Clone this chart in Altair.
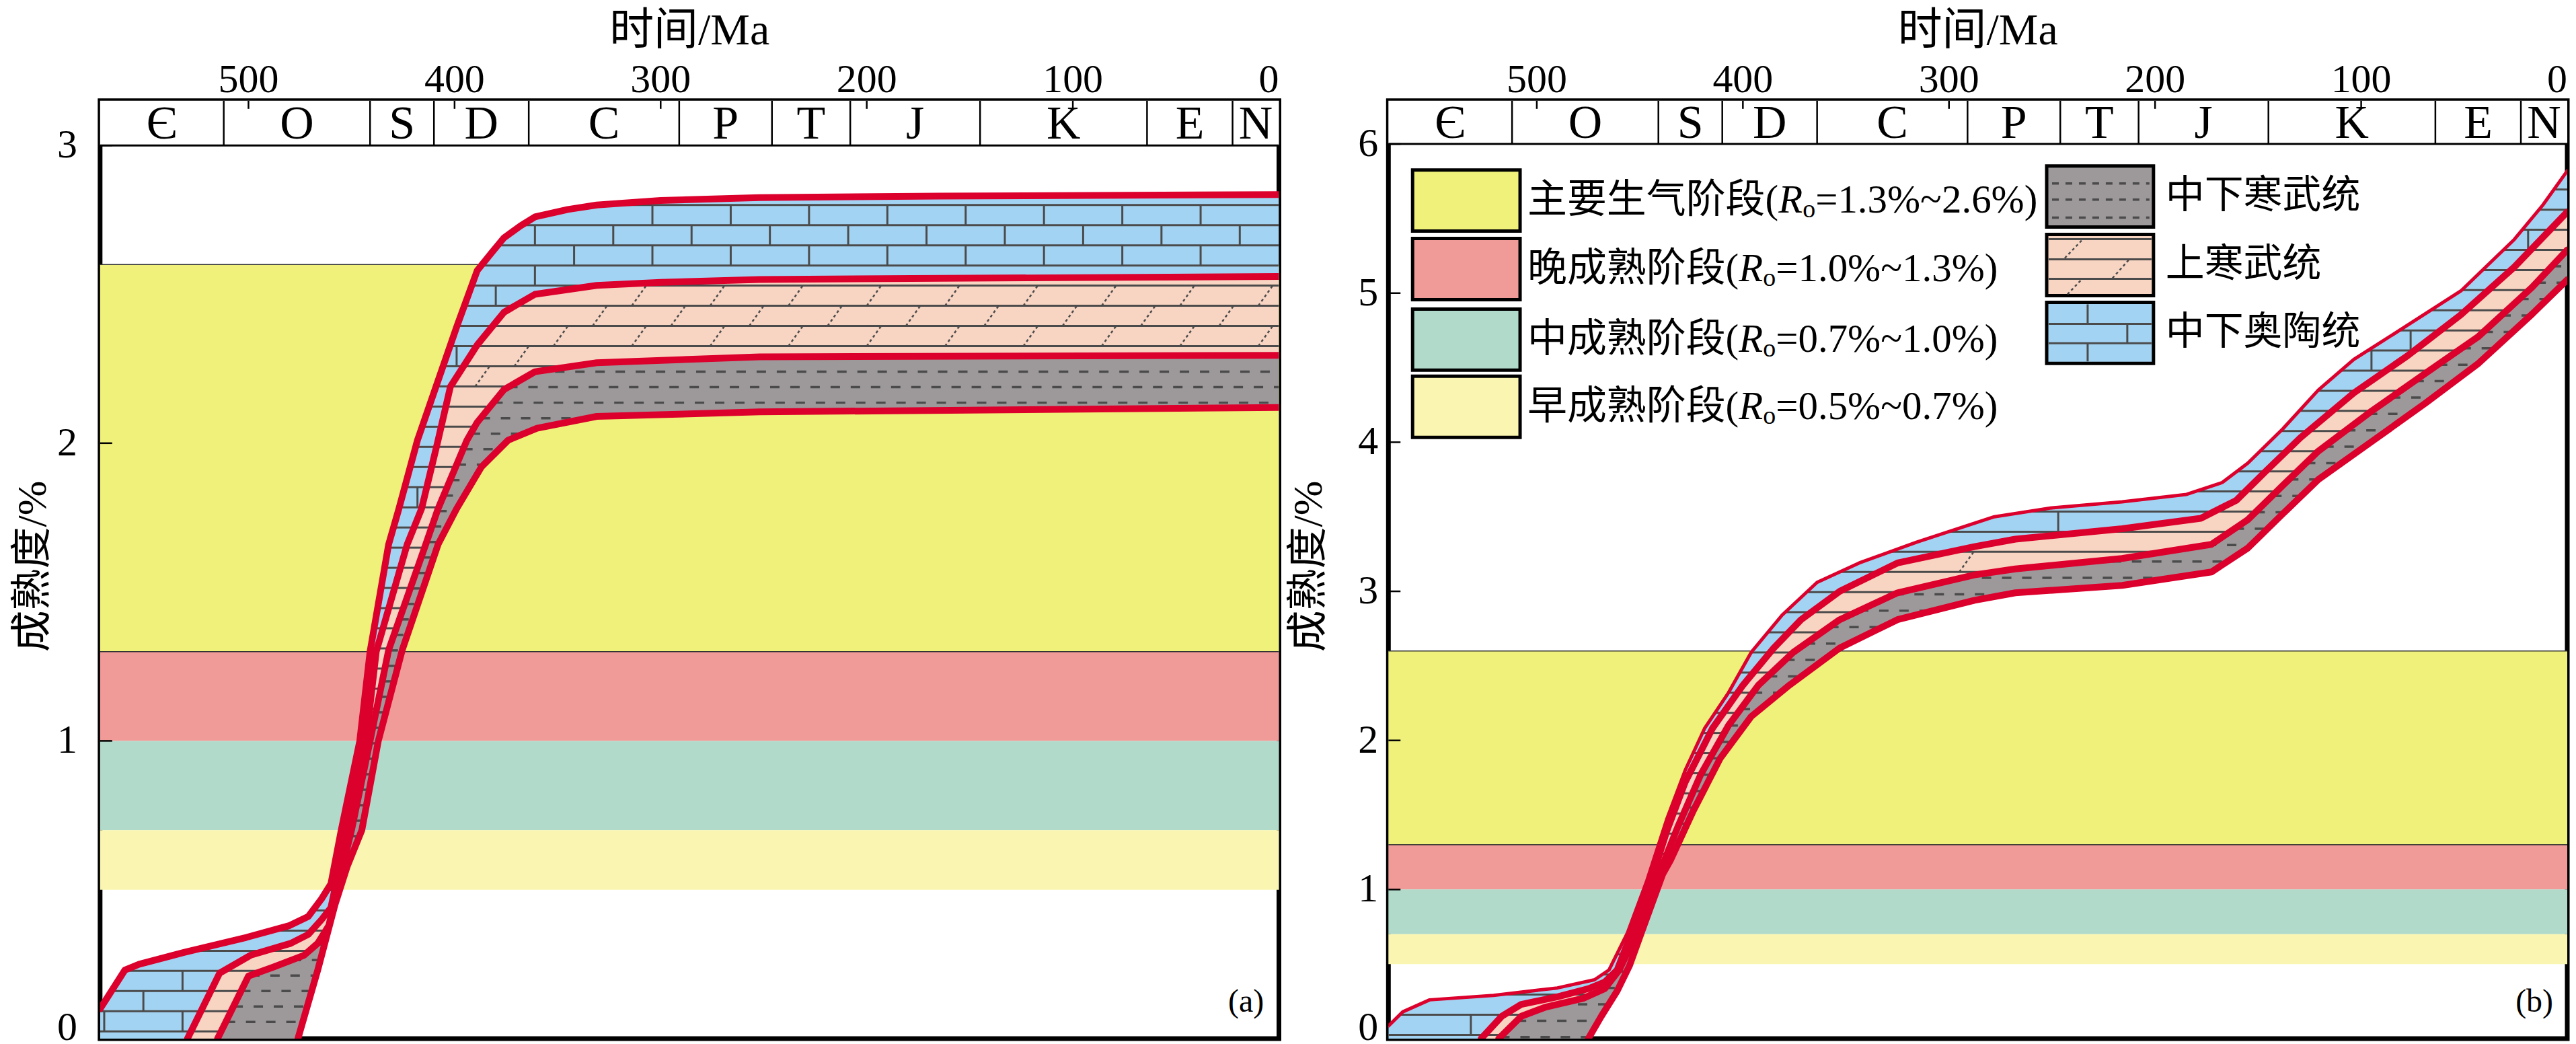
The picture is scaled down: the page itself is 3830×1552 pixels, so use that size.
import altair as alt
import numpy as np
import pandas as pd

# ---------------- data ----------------
AGE_DOMAIN = [572, 0]
TIME_TICKS = [500, 400, 300, 200, 100, 0]
PERIOD_BOUNDS = [512, 441, 410, 364, 291, 246, 208, 145, 64, 22.5]
PERIOD_NAMES = ["Є", "O", "S", "D", "C", "P", "T", "J", "K", "E", "N"]

STAGE_NAMES = ["主要生气阶段", "晚成熟阶段", "中成熟阶段", "早成熟阶段"]
STAGE_LOW = [1.3, 1.0, 0.7, 0.5]
STAGE_HIGH = [2.6, 1.3, 1.0, 0.7]
STAGE_COLORS = ["#F0F17A", "#F19B99", "#B2DACA", "#FAF6B1"]
UNIT_NAMES = ["中下寒武统", "上寒武统", "中下奥陶统"]
X_TITLE = "时间/Ma"
Y_TITLE = "成熟度/%"

# panel (a): four red boundary curves (age in Ma, Ro in %)
A_Y_TICKS = [0, 1, 2, 3]
A_C1_AGE = [572, 560, 553, 531, 501, 480, 471, 464.5, 460, 455, 446, 441, 432, 427, 418, 409, 399, 389, 382, 376, 368, 361, 345, 331, 300, 252, 165, 0]
A_C1_RO = [0.10, 0.23, 0.25, 0.29, 0.34, 0.38, 0.41, 0.47, 0.52, 0.70, 1.00, 1.30, 1.66, 1.78, 2.01, 2.19, 2.39, 2.58, 2.64, 2.69, 2.73, 2.76, 2.785, 2.80, 2.815, 2.825, 2.83, 2.835]
A_C2_AGE = [529.6, 514, 499, 479.5, 471, 464.5, 460, 452, 443, 438, 423, 416, 408, 402, 389, 376, 361, 331, 300, 252, 0]
A_C2_RO = [0.0, 0.22, 0.28, 0.32, 0.35, 0.40, 0.44, 0.70, 1.00, 1.30, 1.66, 1.78, 2.01, 2.19, 2.33, 2.44, 2.50, 2.53, 2.54, 2.55, 2.56]
A_C3_AGE = [515, 500, 488, 473, 466.4, 461, 456, 450, 441, 432, 414, 408, 394, 389, 376, 361, 331, 252, 0]
A_C3_RO = [0.0, 0.21, 0.24, 0.28, 0.32, 0.38, 0.53, 0.70, 1.00, 1.305, 1.66, 1.78, 2.01, 2.07, 2.18, 2.24, 2.27, 2.29, 2.295]
A_C4_AGE = [476, 466.4, 458, 452, 445, 437, 425.4, 408, 399, 387, 374, 360, 331, 252, 0]
A_C4_RO = [0.0, 0.23, 0.45, 0.58, 0.70, 1.00, 1.305, 1.66, 1.78, 1.92, 2.01, 2.05, 2.09, 2.105, 2.12]

# panel (b)
B_Y_TICKS = [0, 1, 2, 3, 4, 5, 6]
B_C1_AGE = [572, 565, 552, 521, 490, 472, 465, 456, 446.6, 437, 428, 418.6, 407, 396, 381, 364, 343.6, 315.6, 278, 250, 216, 184.7, 167.4, 155, 138, 120.8, 103.6, 77.5, 51.6, 25.7, 11.9, 0]
B_C1_RO = [0.085, 0.18, 0.26, 0.29, 0.34, 0.395, 0.46, 0.71, 1.06, 1.47, 1.80, 2.08, 2.32, 2.59, 2.84, 3.06, 3.19, 3.33, 3.50, 3.56, 3.60, 3.65, 3.73, 3.86, 4.09, 4.35, 4.555, 4.785, 5.015, 5.36, 5.59, 5.82]
B_C2_AGE = [527, 517, 507.5, 490, 475, 467, 461, 454, 444.5, 437, 428, 414.8, 400, 385, 371.8, 353, 325, 287.6, 267.8, 216, 177.8, 160.6, 146.7, 129.5, 103.6, 77.5, 51.6, 25.7, 0]
B_C2_RO = [0.0, 0.15, 0.23, 0.28, 0.335, 0.38, 0.46, 0.71, 1.06, 1.39, 1.72, 2.08, 2.37, 2.62, 2.81, 3.00, 3.19, 3.30, 3.35, 3.42, 3.49, 3.61, 3.80, 4.03, 4.33, 4.58, 4.855, 5.175, 5.545]
B_C3_AGE = [518.5, 507.5, 496, 477.5, 467, 460, 451.5, 442, 431.6, 420.5, 407, 392.5, 375.6, 353, 325, 287.6, 267.8, 216, 172.6, 155, 138, 120.8, 94.8, 69, 43, 17, 0]
B_C3_RO = [0.0, 0.15, 0.21, 0.27, 0.335, 0.46, 0.71, 1.06, 1.42, 1.77, 2.10, 2.37, 2.59, 2.81, 2.99, 3.11, 3.15, 3.22, 3.315, 3.48, 3.71, 3.94, 4.21, 4.46, 4.71, 5.04, 5.29]
B_C4_AGE = [475, 468.7, 461, 455, 449, 439, 435, 424, 411, 396, 377.5, 353, 325, 287.6, 267.8, 216, 172.6, 155, 138, 120.8, 94.8, 69, 43, 17, 0]
B_C4_RO = [0.0, 0.15, 0.32, 0.49, 0.72, 1.10, 1.20, 1.53, 1.88, 2.16, 2.37, 2.62, 2.81, 2.94, 2.99, 3.04, 3.13, 3.29, 3.52, 3.75, 4.005, 4.26, 4.53, 4.86, 5.09]

# ---------------- styling ----------------
SERIF = "Liberation Serif, Noto Sans CJK SC"
CJK = "Noto Sans CJK SC"
W, H = 1755, 1396
RED = "#DC002D"
BLUE = "#A3D3F2"
PINK = "#F8D4C2"
GRAY = "#9D999A"
HATCH = "#4B4B4B"
ONE = pd.DataFrame({"k": [0]})


def X(field):
    return alt.X(f"{field}:Q", scale=alt.Scale(domain=AGE_DOMAIN, nice=False, zero=False), axis=None)


def Y(field, ymax):
    return alt.Y(f"{field}:Q", scale=alt.Scale(domain=[0, ymax], nice=False, zero=False), axis=None)


def inv(curve, r):
    return float(np.interp(r, curve[1], curve[0]))


def levels(base, step, top):
    r = base - step * np.floor(base / step)
    out = []
    while r < top:
        if r > 0.005:
            out.append(float(r))
        r += step
    return out


def hlines(up, lo, base, step):
    rows = []
    for r in levels(base, step, up[1][-1]):
        a_hi, a_lo = inv(up, r), inv(lo, r)
        if a_hi - a_lo > 0.3:
            rows.append({"a1": a_hi, "a2": a_lo, "r1": r, "r2": r})
    return pd.DataFrame(rows, columns=["a1", "a2", "r1", "r2"])


def joints(up, lo, base, step, spacing, shift=0.0, phase=0.0):
    rows = []
    lv = levels(base, step, up[1][-1])
    for k in range(len(lv) - 1):
        r, r2 = lv[k], lv[k + 1]
        left, right = inv(up, r2), inv(lo, r)
        off = phase + (spacing / 2.0) * (k % 2)
        for a in off + spacing * np.arange(0, 20):
            if right + 1 < a - shift and a < left - 1:
                rows.append({"a1": float(a), "a2": float(a - shift), "r1": r, "r2": r2})
    return pd.DataFrame(rows, columns=["a1", "a2", "r1", "r2"])


def rule_layer(df, ymax, **kw):
    return alt.Chart(df).mark_rule(color=HATCH, clip=True, **kw).encode(
        x=X("a1"), x2="a2:Q", y=Y("r1", ymax), y2="r2:Q")


def text_at(txt, x, y, **kw):
    style = dict(font=SERIF, color="black")
    style.update(kw)
    return alt.Chart(ONE).mark_text(text=txt, **style).encode(x=alt.value(x), y=alt.value(y))


def legend_layers():
    L = []
    sw_x, sw_w, sw_h = 36, 160, 91
    tops = [103, 205, 310, 410]
    tx, fs, fsub = 207, 59, 38
    for i, name in enumerate(STAGE_NAMES):
        y0 = tops[i]
        yc = y0 + sw_h / 2
        L.append(alt.Chart(ONE).mark_rect(fill=STAGE_COLORS[i], stroke="black", strokeWidth=5).encode(
            x=alt.value(sw_x), x2=alt.value(sw_x + sw_w), y=alt.value(y0), y2=alt.value(y0 + sw_h)))
        w1 = fs * len(name) + 0.333 * fs
        wR = 0.611 * fs
        wo = 0.5 * fsub
        p4 = f"={STAGE_LOW[i]:.1f}%~{STAGE_HIGH[i]:.1f}%)"
        parts = [(name + "(", 0, fs, "normal", 0), ("R", w1, fs, "italic", 0),
                 ("o", w1 + wR, fsub, "normal", 14), (p4, w1 + wR + wo, fs, "normal", 0)]
        for txt, dx, size, style, dy in parts:
            L.append(text_at(txt, tx + dx, yc, fontSize=size, fontStyle=style, align="left",
                             baseline="middle", dy=dy))
    # right column: lithology swatches
    rl, rw, rh = 980, 159, 91
    rtops = [97, 199, 300]
    fills = [GRAY, PINK, BLUE]
    solid, dashed = [], []
    for i in range(3):
        t = rtops[i]
        L.append(alt.Chart(ONE).mark_rect(fill=fills[i], stroke="black", strokeWidth=5).encode(
            x=alt.value(rl), x2=alt.value(rl + rw), y=alt.value(t), y2=alt.value(t + rh)))
        if i == 0:
            for dy in (26, 50, 77):
                dashed.append({"x1": rl + 8, "x2": rl + rw - 6, "y1": t + dy, "y2": t + dy, "g": "d"})
        elif i == 1:
            for dy in (7, 37, 66):
                solid.append({"x1": rl + 3, "x2": rl + rw - 3, "y1": t + dy, "y2": t + dy})
            for (xa, ya, xb, yb) in [(27, 35, 52, 9), (98, 65, 122, 38), (31, 89, 52, 67)]:
                dashed.append({"x1": rl + xa, "x2": rl + xb, "y1": t + ya, "y2": t + yb, "g": "s"})
        else:
            for dy in (32, 61):
                solid.append({"x1": rl + 3, "x2": rl + rw - 3, "y1": t + dy, "y2": t + dy})
            for (xa, ya, yb) in [(61, 3, 32), (120, 32, 61), (61, 61, 88)]:
                solid.append({"x1": rl + xa, "x2": rl + xa, "y1": t + ya, "y2": t + yb})
        L.append(text_at(UNIT_NAMES[i], 1157, t + rh / 2, font=CJK, fontSize=58, align="left",
                         baseline="middle"))
    enc = dict(x=alt.X("x1:Q", scale=None, axis=None), x2="x2:Q",
               y=alt.Y("y1:Q", scale=None, axis=None), y2="y2:Q")
    L.append(alt.Chart(pd.DataFrame(solid)).mark_rule(color=HATCH, strokeWidth=3).encode(**enc))
    dd = pd.DataFrame(dashed)
    L.append(alt.Chart(dd[dd.g == "d"]).mark_rule(color=HATCH, strokeWidth=3.5, strokeDash=[10, 10]).encode(**enc))
    L.append(alt.Chart(dd[dd.g == "s"]).mark_rule(color=HATCH, strokeWidth=2.5, strokeDash=[4, 4]).encode(**enc))
    return L


def panel(curves, lw, ymax, strip_lo, yticks, ylab_pad, ytitle_x, hatch, tag, legend=False):
    layers = []
    bands = pd.DataFrame({"lo": STAGE_LOW, "hi": STAGE_HIGH, "c": STAGE_COLORS,
                          "a0": AGE_DOMAIN[0], "a1": AGE_DOMAIN[1]})
    layers.append(alt.Chart(bands).mark_rect().encode(
        x=X("a0"), x2="a1:Q", y=Y("lo", ymax), y2="hi:Q", color=alt.Color("c:N", scale=None)))
    blines = pd.DataFrame({"r": [STAGE_LOW[0], STAGE_HIGH[0]], "a0": AGE_DOMAIN[0], "a1": AGE_DOMAIN[1]})
    layers.append(alt.Chart(blines).mark_rule(color="#333333", strokeWidth=1.5).encode(
        x=X("a0"), x2="a1:Q", y=Y("r", ymax)))

    c1, c2, c3, c4 = curves
    for up, lo, col, close in [(c1, c2, BLUE, True), (c2, c3, PINK, False), (c3, c4, GRAY, False)]:
        a = list(up[0]) + list(lo[0])[::-1]
        r = list(up[1]) + list(lo[1])[::-1]
        if close:
            a.append(AGE_DOMAIN[0])
            r.append(0.0)
        df = pd.DataFrame({"age": a, "R": r, "i": range(len(a))})
        layers.append(alt.Chart(df).mark_line(filled=True, color=col, clip=True).encode(
            x=X("age"), y=Y("R", ymax), order=alt.Order("i:Q")))

    base, step, gbase, gstep = hatch
    layers.append(rule_layer(hlines(c1, c2, base, step), ymax, strokeWidth=3))
    layers.append(rule_layer(joints(c1, c2, base, step, 38.0), ymax, strokeWidth=3))
    layers.append(rule_layer(hlines(c2, c3, base, step), ymax, strokeWidth=3))
    layers.append(rule_layer(joints(c2, c3, base, step, 38.0, shift=7.0, phase=10.0), ymax,
                             strokeWidth=2.5, strokeDash=[4, 4]))
    layers.append(rule_layer(hlines(c3, c4, gbase, gstep), ymax, strokeWidth=3.5, strokeDash=[14, 16]))

    for (ages, rs), w in zip(curves, lw):
        df = pd.DataFrame({"age": ages, "R": rs, "i": range(len(ages))})
        layers.append(alt.Chart(df).mark_line(color=RED, strokeWidth=w, strokeJoin="round",
                                              strokeCap="round", clip=True).encode(
            x=X("age"), y=Y("R", ymax), order=alt.Order("i:Q")))

    # geological time strip
    strip = pd.DataFrame({"a0": [AGE_DOMAIN[0]], "a1": [AGE_DOMAIN[1]], "lo": [strip_lo], "hi": [ymax]})
    layers.append(alt.Chart(strip).mark_rect(color="white").encode(
        x=X("a0"), x2="a1:Q", y=Y("lo", ymax), y2="hi:Q"))
    layers.append(alt.Chart(strip).mark_rule(color="black", strokeWidth=3).encode(
        x=X("a0"), x2="a1:Q", y=Y("lo", ymax)))
    seps = pd.DataFrame({"a": PERIOD_BOUNDS, "lo": strip_lo, "hi": ymax})
    layers.append(alt.Chart(seps).mark_rule(color="black", strokeWidth=2.5).encode(
        x=X("a"), y=Y("lo", ymax), y2="hi:Q"))
    edges = [AGE_DOMAIN[0]] + PERIOD_BOUNDS + [AGE_DOMAIN[1]]
    mids = [(edges[i] + edges[i + 1]) / 2 for i in range(len(PERIOD_NAMES))]
    labs = pd.DataFrame({"a": mids, "t": PERIOD_NAMES, "y": (strip_lo + ymax) / 2})
    layers.append(alt.Chart(labs).mark_text(font=SERIF, fontSize=70, baseline="middle", dy=2,
                                            color="black").encode(
        x=X("a"), y=Y("y", ymax), text="t:N"))

    # ticks (pointing inward, as in the figure)
    tk = pd.DataFrame({"a": TIME_TICKS[:-1]})
    layers.append(alt.Chart(tk).mark_rule(color="black", strokeWidth=2.5).encode(
        x=X("a"), y=alt.value(0), y2=alt.value(12)))
    yt = pd.DataFrame({"r": yticks[1:]})
    layers.append(alt.Chart(yt).mark_rule(color="black", strokeWidth=2.5).encode(
        x=alt.value(0), x2=alt.value(18), y=Y("r", ymax)))

    # axis labels and titles
    tl = pd.DataFrame({"a": TIME_TICKS[:-1], "t": [str(v) for v in TIME_TICKS[:-1]]})
    layers.append(alt.Chart(tl).mark_text(font=SERIF, fontSize=60, baseline="alphabetic",
                                          align="center", color="black").encode(
        x=X("a"), y=alt.value(-13), text="t:N"))
    t0 = pd.DataFrame({"a": TIME_TICKS[-1:], "t": [str(TIME_TICKS[-1])]})
    layers.append(alt.Chart(t0).mark_text(font=SERIF, fontSize=60, baseline="alphabetic",
                                          align="right", color="black").encode(
        x=X("a"), y=alt.value(-13), text="t:N"))
    layers.append(text_at(X_TITLE, W / 2, -136, fontSize=66, align="center", baseline="top"))
    yl = pd.DataFrame({"r": yticks[1:], "t": [str(v) for v in yticks[1:]]})
    layers.append(alt.Chart(yl).mark_text(font=SERIF, fontSize=60, align="right", baseline="middle",
                                          color="black").encode(
        x=alt.value(-ylab_pad), y=Y("r", ymax), text="t:N"))
    y0 = pd.DataFrame({"r": yticks[:1], "t": [str(yticks[0])]})
    layers.append(alt.Chart(y0).mark_text(font=SERIF, fontSize=60, align="right", baseline="middle",
                                          dy=-16, color="black").encode(
        x=alt.value(-ylab_pad), y=Y("r", ymax), text="t:N"))
    layers.append(text_at(Y_TITLE, ytitle_x, H / 2 - 5, fontSize=62, angle=270, align="center",
                          baseline="middle"))

    layers.append(text_at(tag, W - 49, H - 54, fontSize=48, baseline="middle"))
    if legend:
        layers.extend(legend_layers())
    return alt.layer(*layers).properties(width=W, height=H)


pa = panel([(A_C1_AGE, A_C1_RO), (A_C2_AGE, A_C2_RO), (A_C3_AGE, A_C3_RO), (A_C4_AGE, A_C4_RO)],
           [10, 10, 10, 10], 3.15, 3.0, A_Y_TICKS, 34, -100, (2.80, 0.0677, 2.24, 0.052), "(a)")
pb = panel([(B_C1_AGE, B_C1_RO), (B_C2_AGE, B_C2_RO), (B_C3_AGE, B_C3_RO), (B_C4_AGE, B_C4_RO)],
           [5, 10, 10, 10], 6.29, 6.0, B_Y_TICKS, 15, -118, (3.40, 0.135, 3.20, 0.11), "(b)", legend=True)

chart = alt.hconcat(pa, pb, spacing=163, bounds="flush").properties(
    padding={"left": 6, "top": 0, "right": 0, "bottom": 0}
).configure_view(stroke="black", strokeWidth=7)

chart.save("out.html", embed_options={"renderer": "svg", "actions": False})
